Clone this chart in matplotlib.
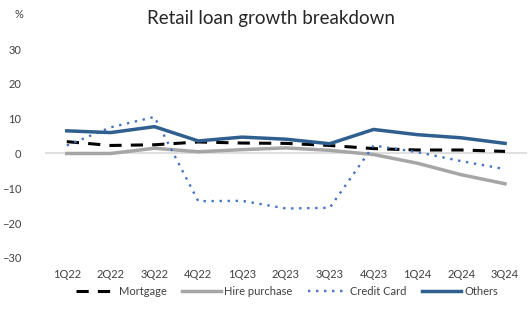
import numpy as np
import matplotlib
matplotlib.use('Agg')
import matplotlib.pyplot as plt

quarters = ["1Q22", "2Q22", "3Q22", "4Q22", "1Q23", "2Q23", "3Q23",
            "4Q23", "1Q24", "2Q24", "3Q24"]
mortgage = [3.4, 2.3, 2.5, 3.3, 3.0, 2.9, 2.3, 1.4, 1.0, 1.0, 0.6]
hire_purchase = [0.0, 0.0, 1.5, 0.5, 1.1, 1.6, 0.9, -0.3, -2.8, -6.1, -8.7]
credit_card = [2.3, 7.5, 10.5, -13.7, -13.6, -15.8, -15.6, 2.3, 0.4, -2.2, -4.5]
others = [6.5, 6.0, 7.7, 3.6, 4.7, 4.1, 2.8, 6.9, 5.4, 4.5, 2.9]

plt.rcParams['font.family'] = ['Lato', 'DejaVu Sans']

fig = plt.figure(figsize=(5.28, 3.29), dpi=100)
ax = fig.add_axes([0.085, 0.216, 0.913, 0.635])

x = np.arange(len(quarters))
ax.axhline(0, color="#d9d9d9", lw=1.2, zorder=1)
ax.plot(x, mortgage, color="black", lw=2.2, ls=(0, (4, 3)), label="Mortgage", zorder=3)
ax.plot(x, hire_purchase, color="#a6a6a6", lw=2.5, label="Hire purchase", zorder=2)
ax.plot(x, credit_card, color="#4472c4", lw=1.7, ls=(0, (1, 2.4)), label="Credit Card", zorder=4)
ax.plot(x, others, color="#2f5f8f", lw=2.5, label="Others", zorder=5)

ax.set_xlim(-0.5, len(quarters) - 0.5)
ax.set_ylim(-30, 30)
ax.set_yticks(np.arange(-30, 31, 10))
ax.set_xticks(x)
ax.set_xticklabels(quarters)
ax.tick_params(length=0, labelsize=8, colors="#404040", pad=8)
ax.tick_params(axis='y', pad=17)
for s in ax.spines.values():
    s.set_visible(False)

fig.text(0.027, 0.955, "%", fontsize=8, color="#404040", va="center")
fig.text(0.513, 0.943, "Retail loan growth breakdown", fontsize=13.5,
         color="#262626", ha="center", va="center")

fig.legend(loc="center", bbox_to_anchor=(0.544, 0.115), ncol=4, frameon=False,
           fontsize=8, handlelength=3.5, handletextpad=0.3, columnspacing=1.4,
           labelcolor="#404040")

fig.savefig("out.png", dpi=100)
